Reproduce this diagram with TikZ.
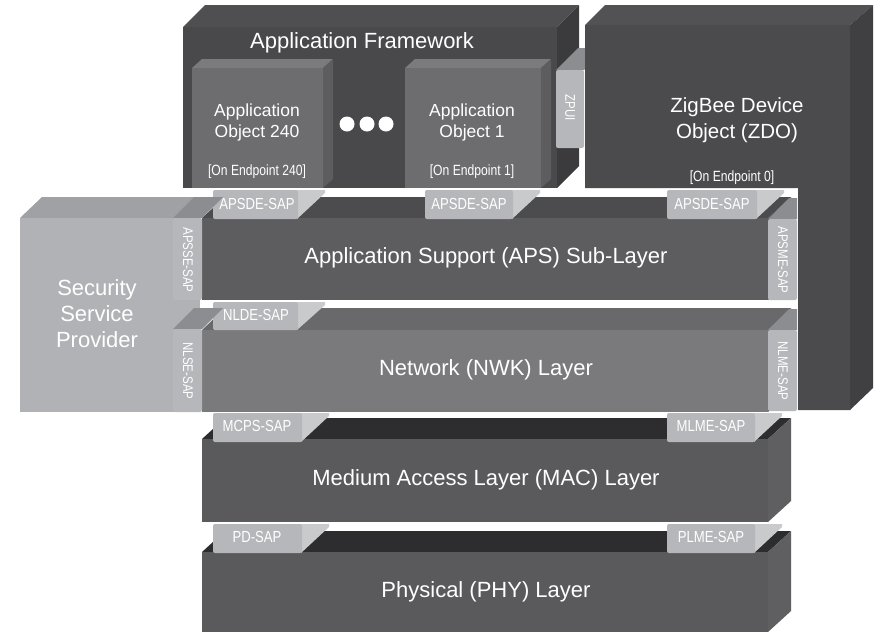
\documentclass[tikz,border=0pt]{standalone}
\usepackage{fontspec}
\setmainfont{Liberation Sans}
\newfontfamily\narrowfont[FakeStretch=0.82]{Liberation Sans}
\definecolor{afFront}{HTML}{49484B}
\definecolor{afTop}{HTML}{4F4E51}
\definecolor{afRight}{HTML}{3B3A3D}
\definecolor{objFront}{HTML}{6D6D70}
\definecolor{objTop}{HTML}{7B7B7E}
\definecolor{objRight}{HTML}{5D5D60}
\definecolor{zdoFront}{HTML}{4B4A4D}
\definecolor{zdoTop}{HTML}{525154}
\definecolor{zdoRight}{HTML}{403F42}
\definecolor{apsFront}{HTML}{5D5D60}
\definecolor{apsTop}{HTML}{4C4B4E}
\definecolor{nwkFront}{HTML}{7A7A7D}
\definecolor{nwkTop}{HTML}{69696C}
\definecolor{macFront}{HTML}{5A5A5D}
\definecolor{macTop}{HTML}{2D2C2F}
\definecolor{macRight}{HTML}{5F5F62}
\definecolor{sspFront}{HTML}{B1B2B5}
\definecolor{sspTop}{HTML}{A0A1A4}
\definecolor{tabFront}{HTML}{B6B7BA}
\definecolor{tabSide}{HTML}{C9CACC}
\definecolor{tabTop}{HTML}{8C8D90}
% cuboid: x1 y1 x2 y2 (front face, pixel coords) dx dy front top right
\newcommand{\cuboid}[9]{%
  \fill[#8] (#1,#2) -- (#1+#5,#2-#6) -- (#3+#5,#2-#6) -- (#3,#2) -- cycle;
  \fill[#9] (#3,#2) -- (#3+#5,#2-#6) -- (#3+#5,#4-#6) -- (#3,#4) -- cycle;
  \fill[#7] (#1,#2) rectangle (#3,#4);}
% service access point tab: x1 y1 x2 y2 of front face
\newcommand{\saptab}[4]{%
  \fill[tabSide] (#3-1,#2) -- (#3+27,#2) -- (#3+27,#2+3) -- (#3-1,#4) -- cycle;
  \fill[tabFront, rounded corners=2pt] (#1,#2) rectangle (#3,#4);}
\begin{document}
\begin{tikzpicture}[x=1pt,y=-1pt,
  lbl/.style={text=white, inner sep=0pt, align=center},
  big/.style={lbl, font=\fontsize{22}{26}\selectfont},
  obj/.style={lbl, font=\fontsize{17.5}{21}\selectfont},
  zdo/.style={lbl, font=\fontsize{20.5}{26}\selectfont},
  endp/.style={lbl, font=\narrowfont\fontsize{14.8}{15}\selectfont},
  sap/.style={lbl, font=\narrowfont\fontsize{16}{16}\selectfont},
  vsap/.style={lbl, rotate=-90, font=\narrowfont\fontsize{14}{14}\selectfont},
  dot/.style={fill=white, draw=none}]
\useasboundingbox (0,0) rectangle (886,638);
\fill[white] (0,0) rectangle (886,638);

% Application Framework
\cuboid{183}{27}{557}{188}{22}{22}{afFront}{afTop}{afRight}
% application objects
\cuboid{192}{68}{323}{188}{10}{9}{objFront}{objTop}{objRight}
\cuboid{405}{68}{541}{188}{10}{9}{objFront}{objTop}{objRight}
\fill[dot] (347,124) circle (7.5);
\fill[dot] (367,124) circle (7.5);
\fill[dot] (386,124) circle (7.5);
% ZPUI tab
\fill[tabTop] (556,70) -- (578,48) -- (606,48) -- (584,70) -- cycle;
\fill[tabFront, rounded corners=2pt] (556,70) rectangle (584,148);

% ZDO (L shaped)
\fill[zdoTop] (585,25) -- (605,5) -- (873,5) -- (850,25) -- cycle;
\fill[zdoRight] (850,25) -- (873,5) -- (873,388) -- (850,410) -- cycle;
\fill[zdoFront] (585,25) -- (850,25) -- (850,410) -- (798,410) -- (798,188) -- (585,188) -- cycle;

% Security Service Provider
\fill[sspTop] (20,218) -- (42,197) -- (222,197) -- (200,218) -- cycle;
\fill[sspFront] (20,218) rectangle (200,412);

% APS
\cuboid{202}{218}{768}{300}{23}{21}{apsFront}{apsTop}{apsTop}
\saptab{213}{190}{298}{219}
\saptab{425}{190}{513}{219}
\saptab{667}{190}{757}{219}
\fill[tabTop] (173,218) -- (194,197) -- (223,197) -- (202,218) -- cycle;
\fill[tabFront, rounded corners=2pt] (173,218) rectangle (202,300);
\fill[tabTop] (768,219) -- (789,198) -- (797,198) -- (797,219) -- cycle;
\fill[tabFront, rounded corners=2pt] (768,219) rectangle (797,300);

% NWK
\cuboid{202}{330}{768}{412}{23}{22}{nwkFront}{nwkTop}{nwkTop}
\saptab{213}{302}{298}{330}
\fill[tabTop] (173,329) -- (194,308) -- (223,308) -- (202,329) -- cycle;
\fill[tabFront, rounded corners=2pt] (173,329) rectangle (202,412);
\fill[tabTop] (768,330) -- (789,309) -- (797,309) -- (797,330) -- cycle;
\fill[tabFront, rounded corners=2pt] (768,330) rectangle (797,411);

% MAC
\cuboid{202}{439}{768}{522}{23}{21}{macFront}{macTop}{macRight}
\saptab{213}{413}{302}{442}
\saptab{667}{413}{755}{442}

% PHY
\cuboid{202}{552}{768}{632}{23}{21}{macFront}{macTop}{macRight}
\saptab{213}{524}{302}{553}
\saptab{667}{524}{755}{553}

% texts
\node[big] (afl) at (362,43) {Application Framework};
\node[obj] (o240) at (257,122.5) {Application\\Object 240};
\node[obj] (o1) at (472,122.5) {Application\\Object 1};
\node[endp] (e240) at (257,172) {[On Endpoint 240]};
\node[endp] (e1) at (472,172) {[On Endpoint 1]};
\node[zdo] (zdol) at (737,120) {ZigBee Device\\Object (ZDO)};
\node[endp] (e0) at (732,178) {[On Endpoint 0]};
\node[vsap] (zpui) at (570,108) {ZPUI};
\node[big] (sspl) at (97,314) {Security\\Service\\Provider};
\node[big] (apsl) at (486,258) {Application Support (APS) Sub-Layer};
\node[big] (nwkl) at (486,370) {Network (NWK) Layer};
\node[big] (macl) at (486,480) {Medium Access Layer (MAC) Layer};
\node[big] (phyl) at (486,592) {Physical (PHY) Layer};
\node[sap] (s1) at (257,204) {APSDE-SAP};
\node[sap] (s2) at (469,204) {APSDE-SAP};
\node[sap] (s3) at (712,204) {APSDE-SAP};
\node[sap] (s4) at (256,315) {NLDE-SAP};
\node[sap] (s5) at (257,426) {MCPS-SAP};
\node[sap] (s6) at (711,426) {MLME-SAP};
\node[sap] (s7) at (257,537) {PD-SAP};
\node[sap] (s8) at (711,537) {PLME-SAP};
\node[vsap] (v1) at (188,260) {APSSE-SAP};
\node[vsap] (v2) at (188,371) {NLSE-SAP};
\node[vsap] (v3) at (783,260) {APSME-SAP};
\node[vsap] (v4) at (783,371) {NLME-SAP};
\end{tikzpicture}
\end{document}
